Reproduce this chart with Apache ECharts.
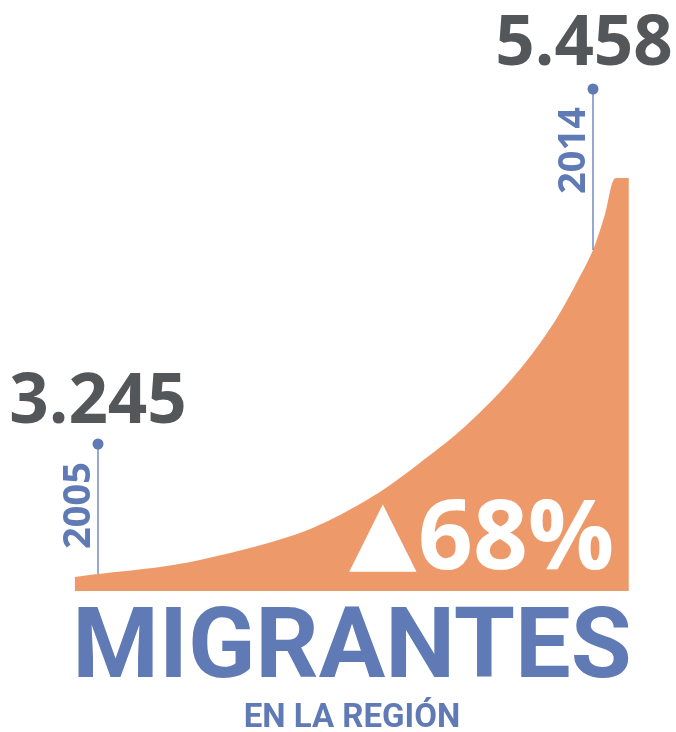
<!DOCTYPE html>
<html>
<head>
<meta charset="utf-8">
<script src="https://cdn.jsdelivr.net/npm/echarts@6/dist/echarts.min.js"></script>
<style>
  html, body { margin: 0; padding: 0; background: #ffffff; }
  #chart { width: 676px; height: 732px; }
</style>
</head>
<body>
<div id="chart"></div>
<script>
// Decorative growth curve (x: year position, y: visual height)
const curveYears = [2004.58, 2005.0, 2006.13, 2006.85, 2007.76, 2008.67, 2009.4, 2010.18, 2010.85, 2011.58, 2012.31, 2012.85, 2013.31, 2013.67, 2014.0, 2014.22, 2014.42, 2014.65];
const curveHeights = [14, 17, 24, 31, 43, 58, 76, 101, 128, 160, 199, 234, 270, 305, 341, 377, 413, 413];

// Markers
const markerYears = [2005, 2014];
const markerValues = ['3.245', '5.458'];
const markerStemTop = [147, 502];
const markerStemBottom = [17, 341];

const changeText = '68%';
const titleText = 'MIGRANTES';
const subtitleText = 'EN LA REGIÓN';

const ORANGE = '#ee996a';
const BLUE = '#5f7ab4';
const GRAY = '#54575a';

const chart = echarts.init(document.getElementById('chart'), null, { renderer: 'canvas' });

const curveData = curveYears.map((y, i) => [y, curveHeights[i]]);

const stemSeries = markerYears.map((yr, i) => ({
  type: 'line',
  silent: true,
  clip: false,
  symbol: 'none',
  lineStyle: { color: BLUE, width: 1.3 },
  data: [[yr, markerStemTop[i]], [yr, markerStemBottom[i]]],
  z: 3
}));

const valueOffsets = [[0, -41], [-9, -44]];

const option = {
  animation: false,
  backgroundColor: '#ffffff',
  grid: { left: 70.5, right: 44.5, top: 60, bottom: 141 },
  xAxis: { type: 'value', min: 2004.5, max: 2014.7, show: false },
  yAxis: { type: 'value', min: 0, max: 531, show: false },
  series: [
    {
      type: 'line',
      silent: true,
      data: curveData,
      smooth: 0.3,
      symbol: 'none',
      lineStyle: { width: 0 },
      areaStyle: { color: ORANGE, opacity: 1 },
      z: 2
    },
    ...stemSeries,
    {
      type: 'scatter',
      silent: true,
      clip: false,
      symbol: 'circle',
      symbolSize: 11,
      itemStyle: { color: BLUE, opacity: 1 },
      z: 4,
      data: markerYears.map((yr, i) => ({
        value: [yr, markerStemTop[i]],
        label: {
          show: true,
          position: 'inside',
          offset: valueOffsets[i],
          formatter: markerValues[i],
          color: GRAY,
          opacity: 1,
          fontFamily: 'Open Sans',
          fontWeight: 'bold',
          fontSize: 69,
          align: 'center',
          verticalAlign: 'middle'
        }
      }))
    },
    {
      type: 'scatter',
      silent: true,
      clip: false,
      symbolSize: 0,
      itemStyle: { color: 'rgba(0,0,0,0)', opacity: 1 },
      z: 4,
      data: markerYears.map((yr, i) => ({
        value: [yr, markerStemTop[i]],
        label: {
          show: true,
          position: 'inside',
          rotate: 90,
          offset: [-18, -19],
          formatter: String(yr),
          color: BLUE,
          opacity: 1,
          fontFamily: 'Open Sans',
          fontWeight: 'bold',
          fontSize: 38,
          align: 'right',
          verticalAlign: 'middle'
        }
      }))
    }
  ],
  graphic: [
    {
      type: 'text',
      left: 349, top: 494,
      style: {
        text: '▲',
        fill: '#ffffff',
        font: 'bold 88px "DejaVu Sans"'
      },
      z: 10
    },
    {
      type: 'text',
      x: 418, y: 542,
      style: {
        text: changeText,
        fill: '#ffffff',
        font: 'bold 96px "Open Sans"',
        textAlign: 'left',
        textVerticalAlign: 'middle'
      },
      z: 10
    },
    {
      type: 'text',
      x: 352, y: 652,
      style: {
        text: titleText,
        fill: BLUE,
        font: 'bold 99px "Liberation Sans Narrow", "Roboto", sans-serif',
        textAlign: 'center',
        textVerticalAlign: 'middle'
      },
      z: 10
    },
    {
      type: 'text',
      x: 352, y: 719,
      style: {
        text: subtitleText,
        fill: BLUE,
        font: 'bold 33px "Liberation Sans Narrow", "Roboto", sans-serif',
        textAlign: 'center',
        textVerticalAlign: 'middle'
      },
      z: 10
    }
  ]
};

chart.setOption(option);
</script>
</body>
</html>
